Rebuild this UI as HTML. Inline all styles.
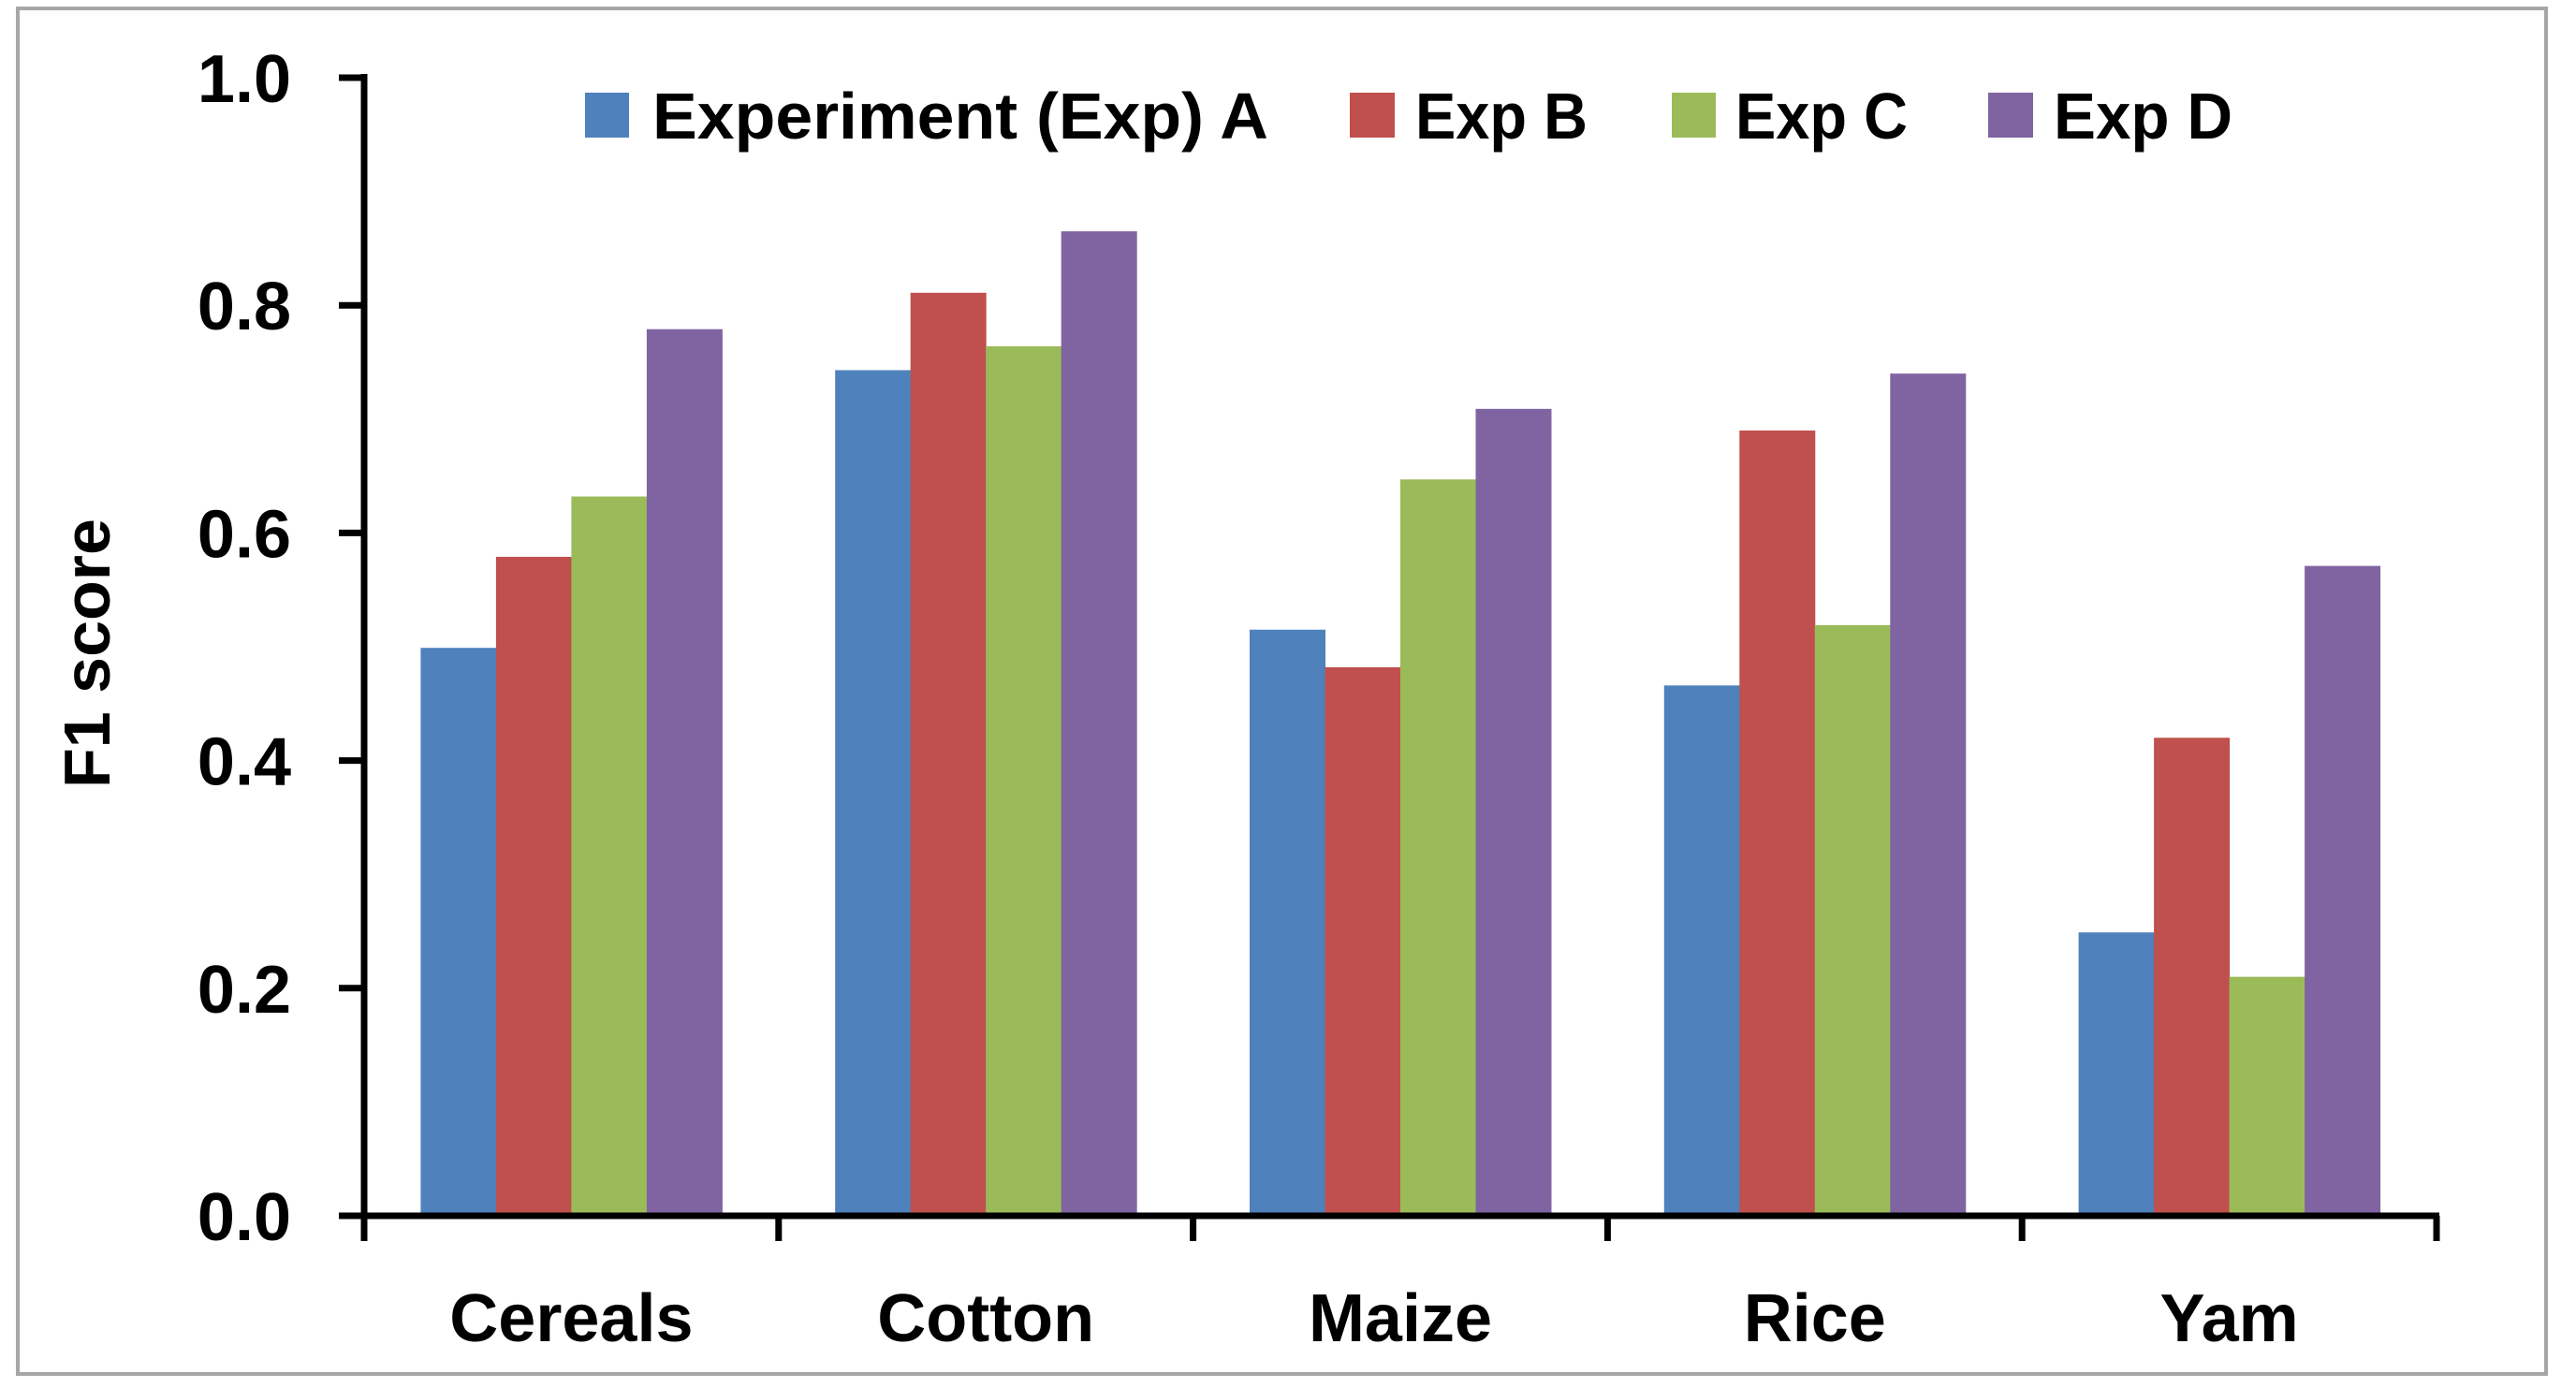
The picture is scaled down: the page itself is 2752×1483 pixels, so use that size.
<!DOCTYPE html>
<html><head><meta charset="utf-8">
<style>
html,body{margin:0;padding:0;background:#fff;}
svg{display:block;}
text{font-family:"Liberation Sans",sans-serif;font-weight:bold;fill:#000;}
</style></head>
<body>
<svg id="chart" width="2752" height="1483" viewBox="0 0 2752 1483" xmlns="http://www.w3.org/2000/svg">
  <rect x="19" y="9" width="2701" height="1459" fill="#fff" stroke="#a6a6a6" stroke-width="4"/>
  <g id="bars"></g>
  <g id="axes"></g>
  <g>
    <g>
      <rect x="625" y="99" width="47" height="48" fill="#4f81bd"/>
      <text x="697" y="148" font-size="70" textLength="658" lengthAdjust="spacingAndGlyphs">Experiment (Exp) A</text>
    </g>
    <g>
      <rect x="1442" y="99" width="48" height="48" fill="#c0504d"/>
      <text x="1512" y="148" font-size="70" textLength="184" lengthAdjust="spacingAndGlyphs">Exp B</text>
    </g>
    <g>
      <rect x="1786" y="99" width="47" height="48" fill="#9bbb59"/>
      <text x="1854" y="148" font-size="70" textLength="184" lengthAdjust="spacingAndGlyphs">Exp C</text>
    </g>
    <g>
      <rect x="2124" y="99" width="48" height="48" fill="#8064a2"/>
      <text x="2194" y="148" font-size="70" textLength="191" lengthAdjust="spacingAndGlyphs">Exp D</text>
    </g>
  </g>
  <text x="0" y="0" font-size="70" text-anchor="middle" transform="translate(117,698) rotate(-90)">F1  score</text>
</svg>
<script>
const categories = ["Cereals", "Cotton", "Maize", "Rice", "Yam"];
const seriesNames = ["Exp A", "Exp B", "Exp C", "Exp D"];
const expA = [0.499, 0.743, 0.515, 0.466, 0.249];
const expB = [0.579, 0.811, 0.482, 0.690, 0.420];
const expC = [0.632, 0.764, 0.647, 0.519, 0.210];
const expD = [0.779, 0.865, 0.709, 0.740, 0.571];
const yTicks = [0.0, 0.2, 0.4, 0.6, 0.8, 1.0];
const yTickLabels = ["0.0", "0.2", "0.4", "0.6", "0.8", "1.0"];

const NS = "http://www.w3.org/2000/svg";
const colors = ["#4f81bd", "#c0504d", "#9bbb59", "#8064a2"];
const series = [expA, expB, expC, expD];
const X0 = 389, X1 = 2603, Y0 = 1299, Y1 = 83;
const yMin = 0, yMax = 1;
function yScale(v) { return Y0 - (v - yMin) / (yMax - yMin) * (Y0 - Y1); }
const catW = (X1 - X0) / categories.length;
function catStart(i) { return X0 + i * catW; }
const barW = 80.5;
const groupPad = (catW - barW * series.length) / 2;
function barX(ci, si) { return catStart(ci) + groupPad + si * barW; }

const barsG = document.getElementById("bars");
const axesG = document.getElementById("axes");
function mk(tag, attrs, parent) {
  const e = document.createElementNS(NS, tag);
  for (const k in attrs) e.setAttribute(k, attrs[k]);
  parent.appendChild(e);
  return e;
}
series.forEach((vals, si) => {
  vals.forEach((v, ci) => {
    const r = mk("rect", {x: barX(ci, si), y: yScale(v), width: barW + 0.5, height: Y0 - yScale(v), fill: colors[si]}, barsG);
    
    
  });
});
// axes lines
const yAxis = mk("line", {x1: X0, y1: Y1 - 4, x2: X0, y2: Y0 + 27, stroke: "#000", "stroke-width": 7}, axesG);


const xAxis = mk("line", {x1: X0 - 27, y1: Y0, x2: X1 + 3, y2: Y0, stroke: "#000", "stroke-width": 7}, axesG);


yTicks.forEach((t, i) => {
  const ln = mk("line", {x1: X0 - 27, y1: yScale(t), x2: X0, y2: yScale(t), stroke: "#000", "stroke-width": 7}, axesG);
  
  
  const tx = mk("text", {x: 311, y: yScale(t) + 26, "font-size": 72, "text-anchor": "end"}, axesG);
  tx.textContent = yTickLabels[i];
  
  
});
for (let i = 0; i <= categories.length; i++) {
  const x = catStart(i);
  const ln = mk("line", {x1: x, y1: Y0, x2: x, y2: Y0 + 27, stroke: "#000", "stroke-width": 7}, axesG);
  
  
}
categories.forEach((c, i) => {
  const tx = mk("text", {x: catStart(i) + catW / 2, y: 1433, "font-size": 72, "text-anchor": "middle"}, axesG);
  tx.textContent = c;
  
  
});
</script>
</body></html>
